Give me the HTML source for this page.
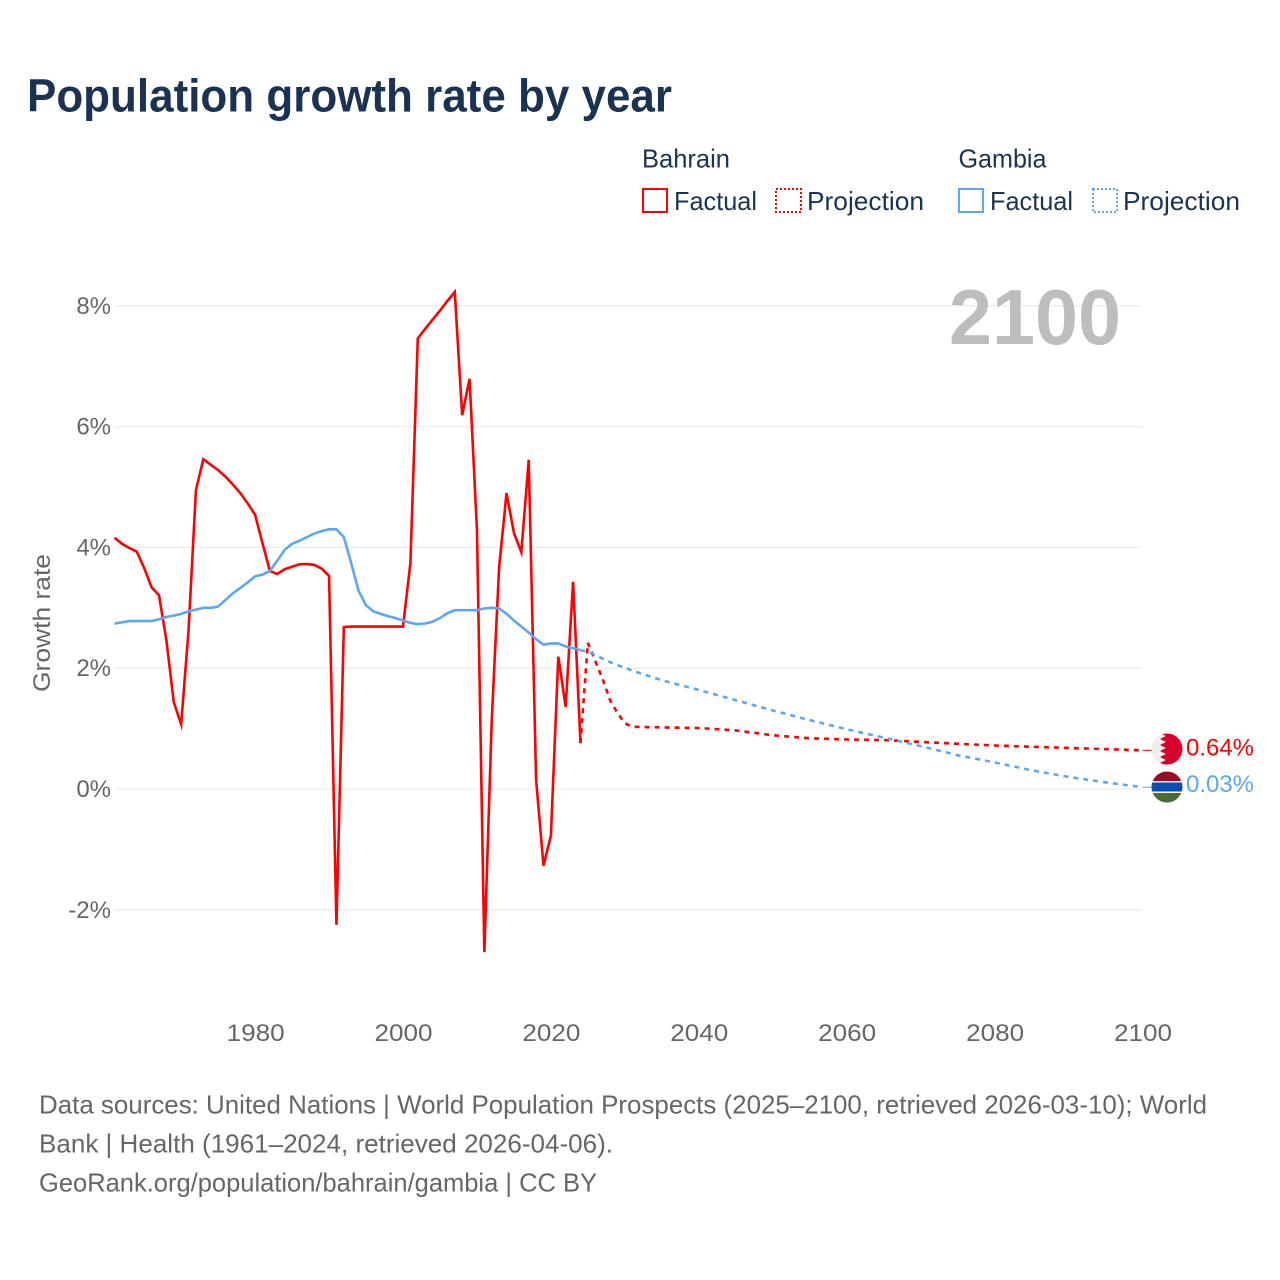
<!DOCTYPE html>
<html lang="en">
<head>
<meta charset="utf-8">
<title>Population growth rate by year</title>
<style>
html,body{margin:0;padding:0;background:#fff;}
svg{display:block;font-family:"Liberation Sans",sans-serif;}
</style>
</head>
<body>
<svg id="chart" xmlns="http://www.w3.org/2000/svg" width="1280" height="1280" viewBox="0 0 1280 1280">
  <defs>
    <clipPath id="clip-bh"><circle id="clip-bh-c" cx="1167" cy="749" r="15.5"/></clipPath>
    <clipPath id="clip-gm"><circle id="clip-gm-c" cx="1167" cy="787" r="15.5"/></clipPath>
  </defs>
  <rect width="1280" height="1280" fill="#fff"/>
  <text x="27" y="111.5" font-size="46" font-weight="700" fill="#1a3353" textLength="645" lengthAdjust="spacingAndGlyphs">Population growth rate by year</text>

  <g font-size="26" fill="#1a3353">
    <text x="642" y="167.5" textLength="88" lengthAdjust="spacingAndGlyphs">Bahrain</text>
    <text x="958.5" y="167.5" textLength="88" lengthAdjust="spacingAndGlyphs">Gambia</text>
    <g>
      <rect x="643" y="189" width="24" height="23" fill="none" stroke="#ff0000" stroke-width="2"/>
      <text x="674" y="210" textLength="83" lengthAdjust="spacingAndGlyphs">Factual</text>
    </g>
    <g>
      <rect x="776" y="189" width="25" height="23" fill="none" stroke="#ff0000" stroke-width="2" stroke-dasharray="2 2"/>
      <text x="807" y="210" textLength="117" lengthAdjust="spacingAndGlyphs">Projection</text>
    </g>
    <g>
      <rect x="959" y="189" width="24" height="23" fill="none" stroke="#5ca7f0" stroke-width="2"/>
      <text x="990" y="210" textLength="83" lengthAdjust="spacingAndGlyphs">Factual</text>
    </g>
    <g>
      <rect x="1093" y="189" width="24" height="23" fill="none" stroke="#5ca7f0" stroke-width="2" stroke-dasharray="2 2"/>
      <text x="1123" y="210" textLength="117" lengthAdjust="spacingAndGlyphs">Projection</text>
    </g>
  </g>

  <text transform="translate(50 623) rotate(-90)" text-anchor="middle" font-size="24" fill="#666" textLength="138" lengthAdjust="spacingAndGlyphs">Growth rate</text>

  <g id="grid"></g>
  <g id="yticks"></g>
  <g id="xticks"></g>

  <text x="949" y="344" font-size="78" font-weight="700" fill="#bdbdbd" textLength="172" lengthAdjust="spacingAndGlyphs">2100</text>

  <g id="series"></g>

  <g id="flag-bahrain" clip-path="url(#clip-bh)">
    <rect id="bh-bg" x="1150" y="732" width="34" height="34" fill="#eeeeee"/>
    <polygon id="bh-red" fill="#d7002a" points="1184,733 1160,733 1166,736 1160,739 1166,742 1160,745 1166,748 1160,751 1166,754 1160,757 1166,760 1160,763 1166,766 1184,766"/>
  </g>
  <g id="flag-gambia" clip-path="url(#clip-gm)">
    <rect x="1150" y="771" width="34" height="10" fill="#9a0b24"/>
    <rect x="1150" y="781" width="34" height="12" fill="#f4f4f4"/>
    <rect x="1150" y="782.5" width="34" height="9" fill="#0a50b0"/>
    <rect x="1150" y="793" width="34" height="10" fill="#4a6e2f"/>
  </g>
  <text id="label-bh" x="1186" y="755.5" font-size="24" fill="#ff0000" textLength="68" lengthAdjust="spacingAndGlyphs"></text>
  <text id="label-gm" x="1186" y="792" font-size="24" fill="#5ca7f0" textLength="68" lengthAdjust="spacingAndGlyphs"></text>

  <g font-size="26" fill="#666">
    <text x="39" y="1113.5" textLength="1168" lengthAdjust="spacingAndGlyphs">Data sources: United Nations | World Population Prospects (2025–2100, retrieved 2026-03-10); World</text>
    <text x="39" y="1152.5" textLength="574" lengthAdjust="spacingAndGlyphs">Bank | Health (1961–2024, retrieved 2026-04-06).</text>
    <text x="39" y="1191.5" textLength="558" lengthAdjust="spacingAndGlyphs">GeoRank.org/population/bahrain/gambia | CC BY</text>
  </g>
</svg>
<script>
const xTickYears = [1980, 2000, 2020, 2040, 2060, 2080, 2100];
const yTickValues = [-2, 0, 2, 4, 6, 8];
const factualStartYear = 1961;
const bahrainFactual = [4.16,4.06,3.99,3.93,3.66,3.34,3.21,2.47,1.44,1.07,2.63,4.95,5.46,5.37,5.28,5.17,5.04,4.90,4.73,4.54,4.07,3.61,3.56,3.64,3.68,3.72,3.725,3.71,3.65,3.53,-2.25,2.68,2.69,2.69,2.69,2.69,2.69,2.69,2.69,2.69,3.74,7.46,7.62,7.77,7.92,8.08,8.23,6.19,6.79,4.29,-2.70,1.14,3.67,4.90,4.24,3.92,5.45,0.15,-1.27,-0.77,2.19,1.36,3.43,0.76];
const gambiaFactual = [2.74,2.76,2.78,2.78,2.78,2.78,2.81,2.85,2.87,2.90,2.94,2.97,3.00,3.00,3.02,3.13,3.24,3.33,3.42,3.52,3.55,3.61,3.78,3.96,4.06,4.11,4.17,4.23,4.27,4.30,4.30,4.17,3.74,3.28,3.04,2.94,2.90,2.86,2.83,2.79,2.75,2.73,2.74,2.77,2.83,2.91,2.96,2.96,2.96,2.96,2.99,3.00,2.99,2.90,2.79,2.69,2.59,2.48,2.39,2.41,2.41,2.36,2.33,2.30];
const projectionYears = [2024,2025,2026,2027,2028,2029,2030,2031,2035,2040,2045,2050,2055,2060,2065,2070,2075,2080,2085,2090,2095,2100];
const bahrainProjection = [0.76,2.42,2.12,1.82,1.47,1.26,1.09,1.03,1.02,1.01,0.97,0.89,0.84,0.82,0.81,0.78,0.75,0.72,0.70,0.68,0.66,0.64];
const gambiaProjection = [2.30,2.27,2.22,2.16,2.10,2.05,2.01,1.96,1.80,1.64,1.47,1.30,1.14,0.99,0.85,0.71,0.56,0.44,0.31,0.20,0.11,0.03];

const SVGNS = 'http://www.w3.org/2000/svg';
const xScale = function (year) { return 114.6 + (year - 1961) * (1142.5 - 114.6) / (2100 - 1961); };
const yScale = function (v) { return 789 - v * 60.4; };
const RED = '#ff0000';
const BLUE = '#5ca7f0';

const grid = document.getElementById('grid');
const yticks = document.getElementById('yticks');
const xticks = document.getElementById('xticks');
const series = document.getElementById('series');

yTickValues.forEach(function (v) {
  const line = document.createElementNS(SVGNS, 'line');
  
  
  line.setAttribute('x1', 115);
  line.setAttribute('x2', 1141.5);
  line.setAttribute('y1', yScale(v));
  line.setAttribute('y2', yScale(v));
  line.setAttribute('stroke', '#ececec');
  line.setAttribute('stroke-width', '1.3');
  grid.appendChild(line);

  const label = document.createElementNS(SVGNS, 'text');
  
  
  label.setAttribute('x', 111);
  label.setAttribute('y', yScale(v) + 8);
  label.setAttribute('text-anchor', 'end');
  label.setAttribute('font-size', '24');
  label.setAttribute('fill', '#666');
  label.textContent = v + '%';
  yticks.appendChild(label);
});

xTickYears.forEach(function (year) {
  const label = document.createElementNS(SVGNS, 'text');
  
  
  label.setAttribute('x', xScale(year) + 0.5);
  label.setAttribute('y', 1041);
  label.setAttribute('text-anchor', 'middle');
  label.setAttribute('font-size', '24');
  label.setAttribute('fill', '#666');
  label.setAttribute('textLength', '58');
  label.setAttribute('lengthAdjust', 'spacingAndGlyphs');
  label.textContent = year;
  xticks.appendChild(label);
});

function toPoints(years, values) {
  return values.map(function (v, i) { return xScale(years[i]).toFixed(2) + ',' + yScale(v).toFixed(2); }).join(' ');
}
const factualYears = bahrainFactual.map(function (_, i) { return factualStartYear + i; });

const redProj = document.createElementNS(SVGNS, 'polyline');


redProj.setAttribute('points', toPoints(projectionYears, bahrainProjection));
redProj.setAttribute('fill', 'none');
redProj.setAttribute('stroke', RED);
redProj.setAttribute('stroke-width', '2.6');
redProj.setAttribute('stroke-dasharray', '5 5');
series.appendChild(redProj);

const redLine = document.createElementNS(SVGNS, 'polyline');


redLine.setAttribute('points', toPoints(factualYears, bahrainFactual));
redLine.setAttribute('fill', 'none');
redLine.setAttribute('stroke', RED);
redLine.setAttribute('stroke-width', '2.6');
redLine.setAttribute('stroke-linejoin', 'miter');
redLine.setAttribute('stroke-miterlimit', '6');
series.appendChild(redLine);

const blueProj = document.createElementNS(SVGNS, 'polyline');


blueProj.setAttribute('points', toPoints(projectionYears, gambiaProjection));
blueProj.setAttribute('fill', 'none');
blueProj.setAttribute('stroke', BLUE);
blueProj.setAttribute('stroke-width', '2.6');
blueProj.setAttribute('stroke-dasharray', '5 5');
series.appendChild(blueProj);

const blueLine = document.createElementNS(SVGNS, 'polyline');


blueLine.setAttribute('points', toPoints(factualYears, gambiaFactual));
blueLine.setAttribute('fill', 'none');
blueLine.setAttribute('stroke', BLUE);
blueLine.setAttribute('stroke-width', '2.6');
blueLine.setAttribute('stroke-linejoin', 'round');
series.appendChild(blueLine);

const lastYear = projectionYears[projectionYears.length - 1];
const bhLast = bahrainProjection[bahrainProjection.length - 1];
const gmLast = gambiaProjection[gambiaProjection.length - 1];

const redConnector = document.createElementNS(SVGNS, 'line');


redConnector.setAttribute('x1', xScale(lastYear));
redConnector.setAttribute('x2', 1152);
redConnector.setAttribute('y1', yScale(bhLast));
redConnector.setAttribute('y2', yScale(bhLast));
redConnector.setAttribute('stroke', RED);
redConnector.setAttribute('stroke-width', '1');
series.appendChild(redConnector);

const blueConnector = document.createElementNS(SVGNS, 'line');


blueConnector.setAttribute('x1', xScale(lastYear));
blueConnector.setAttribute('x2', 1152);
blueConnector.setAttribute('y1', yScale(gmLast));
blueConnector.setAttribute('y2', yScale(gmLast));
blueConnector.setAttribute('stroke', BLUE);
blueConnector.setAttribute('stroke-width', '1');
series.appendChild(blueConnector);

document.getElementById('label-bh').textContent = bhLast.toFixed(2) + '%';
document.getElementById('label-gm').textContent = gmLast.toFixed(2) + '%';
</script>
</body>
</html>
